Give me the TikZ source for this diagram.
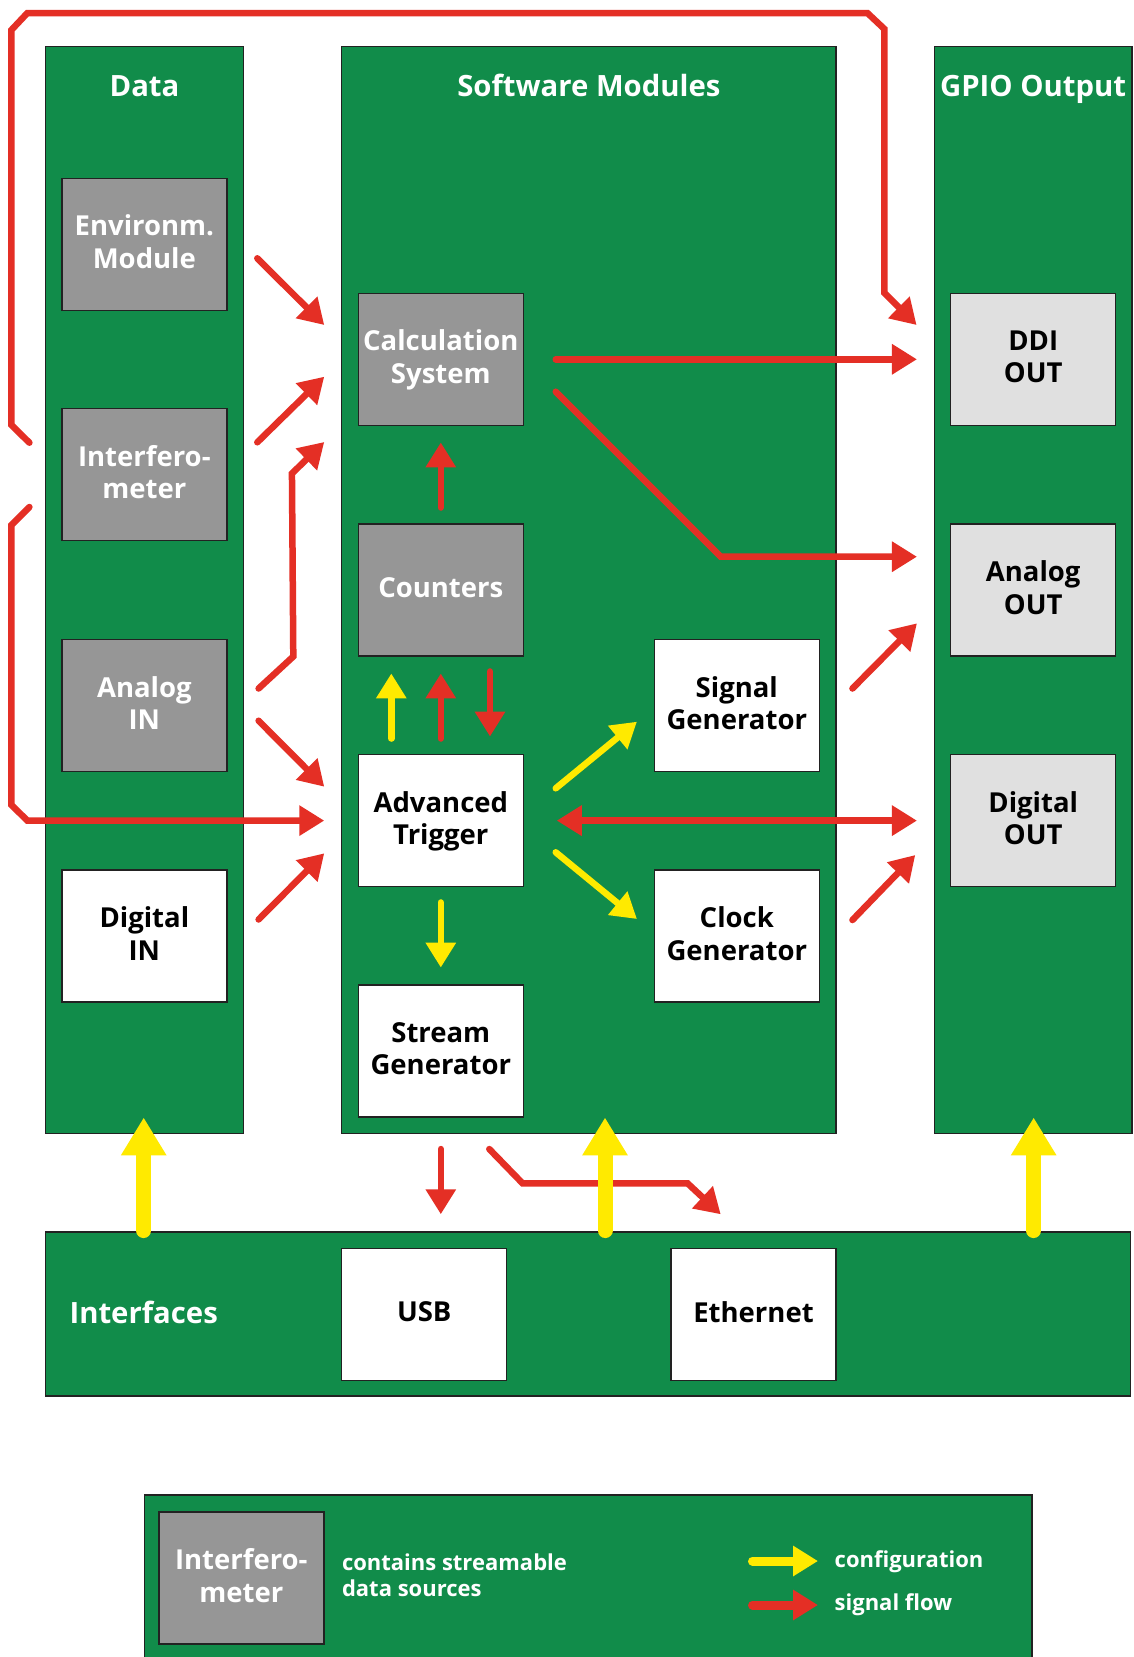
\documentclass[tikz,border=0pt]{standalone}
\usepackage{fontspec}
\setmainfont{Open Sans}
\usetikzlibrary{arrows.meta,calc}
\definecolor{grn}{HTML}{118C4A}
\definecolor{gry}{HTML}{969696}
\definecolor{lgry}{HTML}{E0E0E0}
\definecolor{sred}{HTML}{E42F25}
\definecolor{cyel}{HTML}{FFEA00}
\definecolor{edge}{HTML}{222222}
\begin{document}
\begin{tikzpicture}[x=1pt,y=-1pt,
 col/.style={draw=edge,line width=1.5pt,fill=grn,inner sep=0pt},
 box/.style={draw=edge,line width=1.5pt,minimum width=165pt,minimum height=132pt,inner sep=0pt,align=center,text depth=5pt,font=\fontsize{27.5}{32.7}\selectfont\bfseries},
 dbox/.style={box,fill=gry,text=white},
 wbox/.style={box,fill=white,text=black},
 lbox/.style={box,fill=lgry,text=black},
 title/.style={text=white,inner sep=0pt,font=\fontsize{29.3}{35}\selectfont\bfseries},
 ltext/.style={text=white,inner sep=0pt,align=left,font=\fontsize{22}{26}\selectfont\bfseries},
 sig/.style={draw=sred,line width=6.5pt,line cap=round,line join=miter,-{Triangle[length=25pt,width=29pt]}},
 sigboth/.style={draw=sred,line width=6.5pt,{Triangle[length=25pt,width=29pt]}-{Triangle[length=25pt,width=29pt]}},
 cfg/.style={draw=cyel,line width=6.5pt,line cap=round,-{Triangle[length=25pt,width=29pt]}},
 bigcfg/.style={draw=cyel,line width=15pt,line cap=round,-{Triangle[length=38pt,width=43pt]}},
 legsig/.style={draw=sred,line width=9pt,line cap=round,-{Triangle[length=25pt,width=29pt]}},
 legcfg/.style={draw=cyel,line width=9pt,line cap=round,-{Triangle[length=25pt,width=29pt]}},
]
\useasboundingbox[fill=white] (0,0) rectangle (1133,1657);

% columns
\node[col,minimum width=197.6pt,minimum height=1086.6pt] (coldata) at (144.5,590) {};
\node[col,minimum width=494.3pt,minimum height=1086.6pt] (colsw) at (588.85,590) {};
\node[col,minimum width=197.7pt,minimum height=1086.6pt] (colgpio) at (1033.15,590) {};
\node[col,minimum width=1085.1pt,minimum height=164pt] (colif) at (588.05,1314) {};
\node[col,minimum width=887.3pt,minimum height=170pt] (legend) at (588.15,1580) {};

% titles
\node[title,anchor=base] (tdata) at (144.5,96.7) {Data};
\node[title,anchor=base] (tsw) at (588.85,96.7) {Software Modules};
\node[title,anchor=base] (tgpio) at (1033.15,96.7) {GPIO Output};
\node[title,anchor=base] (tif) at (143.7,1323.5) {Interfaces};

% data boxes
\node[dbox] (env) at (144.35,244.3) {Environm.\\Module};
\node[dbox] (interf) at (144.35,474.5) {Interfero-\\meter};
\node[dbox] (ain) at (144.35,705.5) {Analog\\IN};
\node[wbox] (din) at (144.35,936) {Digital\\IN};

% software boxes
\node[dbox] (calc) at (440.8,359.3) {Calculation\\System};
\node[dbox] (cnt) at (440.8,590) {Counters};
\node[wbox] (trig) at (440.8,820.6) {Advanced\\Trigger};
\node[wbox] (strm) at (440.8,1051) {Stream\\Generator};
\node[wbox] (sig) at (736.8,705.5) {Signal\\Generator};
\node[wbox] (clk) at (736.8,936) {Clock\\Generator};

% gpio boxes
\node[lbox] (ddi) at (1033.2,359.3) {DDI\\OUT};
\node[lbox] (aout) at (1033.2,590) {Analog\\OUT};
\node[lbox] (dout) at (1033.2,820.6) {Digital\\OUT};

% interfaces
\node[wbox] (usb) at (424.2,1314.3) {USB};
\node[wbox] (eth) at (753.5,1314.3) {Ethernet};

% legend
\node[dbox] (linterf) at (241.3,1578) {Interfero-\\meter};
\node[ltext,anchor=west] (ldesc) at (341.8,1575.4) {contains streamable\\data sources};
\node[ltext,anchor=base west] (lcfg) at (834.5,1567) {configuration};
\node[ltext,anchor=base west] (lsig) at (834.5,1610.7) {signal flow};
\draw[legcfg] ($(lcfg.base west)+(-82,-6)$) -- ($(lcfg.base west)+(-16.5,-6)$);
\draw[legsig] ($(lsig.base west)+(-82,-5.7)$) -- ($(lsig.base west)+(-16.5,-5.7)$);

% signal arrows into calc
\draw[sig] ($(env.east)+(29.7,14)$) -- ($(calc.west)+(-33.3,-34.3)$);
\draw[sig] ($(interf.east)+(29.7,-32.2)$) -- ($(calc.west)+(-33.3,17.4)$);
\draw[sig] ($(ain.east)+(31,-17)$) -- ($(ain.east)+(65.7,-49)$) -- ($(calc.west)+(-65.6,114.2)$) -- ($(calc.west)+(-33.3,82.7)$);
% into trigger
\draw[sig] ($(ain.east)+(31,15.2)$) -- ($(trig.west)+(-33.3,-33.9)$);
\draw[sig] ($(din.east)+(31,-16.5)$) -- ($(trig.west)+(-33.3,32.7)$);
% loops from interferometer
\draw[sig] ($(interf.west)+(-31.7,-31.8)$) -- ++(-18,-17.7) -- ++(0,-395) -- ++(16,-17) -- ++(840,0) -- ++(17,16) -- ++(0,264) -- ($(ddi.west)+(-33.4,-34.3)$);
\draw[sig] ($(interf.west)+(-31.7,32.5)$) -- ++(-18,18) -- ++(0,280) -- ++(16,15.6) -- ($(trig.west)+(-33.3,0)$);
% counters / calc / trigger
\draw[sig] ($(cnt.north)+(0,-15.7)$) -- ($(calc.south)+(0,16.4)$);
\draw[cfg] ($(trig.north)+(-49.5,-15.3)$) -- ($(cnt.south)+(-49.5,16.7)$);
\draw[sig] ($(trig.north)+(0,-15.3)$) -- ($(cnt.south)+(0,16.7)$);
\draw[sig] ($(cnt.south)+(49.2,14.7)$) -- ($(trig.north)+(49.2,-17.3)$);
% calc to outputs
\draw[sig] ($(calc.east)+(31.7,0)$) -- ($(ddi.west)+(-33,0)$);
\draw[sig] ($(calc.east)+(31.7,32.4)$) -- ($(calc.east)+(196.7,197.4)$) -- ($(aout.west)+(-33,-33.3)$);
\draw[sig] ($(sig.east)+(32.4,-17)$) -- ($(aout.west)+(-33,33.3)$);
\draw[sigboth] ($(trig.east)+(32.7,0)$) -- ($(dout.west)+(-33,0)$);
\draw[sig] ($(clk.east)+(32.4,-16)$) -- ($(dout.west)+(-34.7,34.4)$);
% trigger config
\draw[cfg] ($(trig.east)+(31.7,-32.3)$) -- ($(sig.west)+(-16.6,16.2)$);
\draw[cfg] ($(trig.east)+(31.7,31.7)$) -- ($(clk.west)+(-16.6,-17)$);
\draw[cfg] ($(trig.south)+(0,15.1)$) -- ($(strm.north)+(0,-16.7)$);
% stream to interfaces
\draw[sig] ($(strm.south)+(0,31.3)$) -- ($(usb.north)+(16.6,-33.3)$);
\draw[sig] ($(strm.south)+(48.5,31.3)$) -- ++(33.4,34.4) -- ++(165,0) -- ($(eth.north)+(-32.8,-33.3)$);
% interfaces config
\draw[bigcfg] ($(coldata.south)+(-0.8,96.5)$) -- ($(coldata.south)+(-0.8,-16.6)$);
\draw[bigcfg] ($(colsw.south)+(16.15,96.5)$) -- ($(colsw.south)+(16.15,-16.6)$);
\draw[bigcfg] ($(colgpio.south)+(0.5,96.5)$) -- ($(colgpio.south)+(0.5,-16.6)$);
\end{tikzpicture}
\end{document}
